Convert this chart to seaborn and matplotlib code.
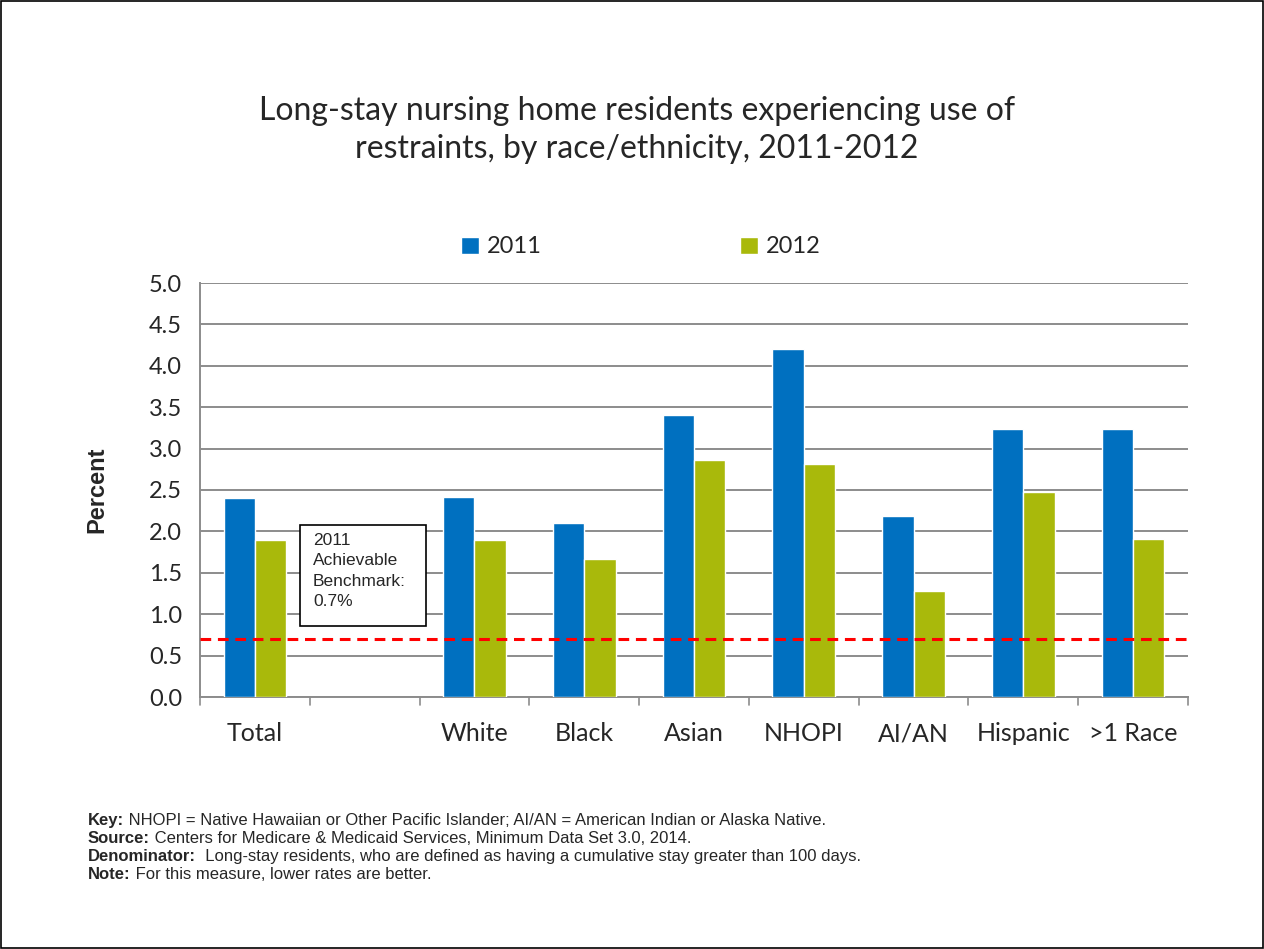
import pandas as pd
import matplotlib.pyplot as plt
import matplotlib.patches as mpatches
import seaborn as sns

# data
categories = ["Total", "", "White", "Black", "Asian", "NHOPI", "AI/AN", "Hispanic", ">1 Race"]
groups = ["Total", "White", "Black", "Asian", "NHOPI", "AI/AN", "Hispanic", ">1 Race"]
values_2011 = [2.40, 2.42, 2.10, 3.40, 4.20, 2.19, 3.24, 3.24]
values_2012 = [1.90, 1.90, 1.67, 2.86, 2.82, 1.28, 2.47, 1.91]
years = ["2011", "2012"]
benchmark = 0.7
yticks = [0.0, 0.5, 1.0, 1.5, 2.0, 2.5, 3.0, 3.5, 4.0, 4.5, 5.0]

df = pd.DataFrame({
    "group": groups * 2,
    "year": [years[0]] * len(groups) + [years[1]] * len(groups),
    "pct": values_2011 + values_2012,
})

sns.set_theme(style="white")
plt.rcParams["font.family"] = ["Lato", "DejaVu Sans"]

W, H = 1264, 949
fig = plt.figure(figsize=(W / 100, H / 100), dpi=100)
ax = fig.add_axes([200 / W, 1 - 697 / H, 988 / W, 414 / H])

sns.barplot(data=df, x="group", y="pct", hue="year", order=categories,
            hue_order=years, palette=["#0070C0", "#A9B90B"], width=0.57,
            saturation=1, ax=ax, zorder=3)

ax.set_ylim(0, 5)
ax.set_xlim(-0.5, len(categories) - 0.5)
ax.set_yticks(yticks)
ax.set_yticklabels([f"{t:.1f}" for t in yticks], fontsize=17)
ax.grid(axis="y", color="#8c8c8c", lw=1.4, zorder=0)
ax.set_axisbelow(True)

# category labels + boundary ticks
ax.set_xticks(range(len(categories)))
ax.set_xticklabels(categories, fontsize=18)
ax.tick_params(axis="x", length=0, pad=18)
ax.tick_params(axis="y", length=0, pad=13)
for b in range(len(categories) + 1):
    ax.plot([b - 0.5, b - 0.5], [0, -0.1], color="#8c8c8c", lw=1.2,
            clip_on=False, zorder=2)

for s in ["top", "right"]:
    ax.spines[s].set_visible(False)
for s in ["left", "bottom"]:
    ax.spines[s].set_color("#8c8c8c")
    ax.spines[s].set_linewidth(1.4)

ax.set_xlabel("")
ax.set_ylabel("Percent", fontsize=17, fontweight="bold",
              family=["Liberation Sans", "DejaVu Sans"], labelpad=29)

# benchmark line
ax.axhline(benchmark, color="#FF0000", ls=(0, (3.5, 2.2)), lw=2.2, zorder=4)

# legend
sns.move_legend(ax, "center", bbox_to_anchor=(641 / W, 1 - 247 / H),
                bbox_transform=fig.transFigure, ncol=2, frameon=False,
                title=None, fontsize=17, handlelength=0.75, handleheight=0.75,
                handletextpad=0.35, columnspacing=8.4)

# benchmark box
fig.patches.append(mpatches.Rectangle((300 / W, 1 - 626 / H), 126 / W, 101 / H,
                                      transform=fig.transFigure, fill=True,
                                      facecolor="white", edgecolor="black",
                                      lw=1.2, zorder=5))
fig.text(313 / W, 1 - 533 / H, "2011\nAchievable\nBenchmark:\n0.7%",
         fontsize=12.5, va="top", ha="left", linespacing=1.45,
         family=["Liberation Sans", "DejaVu Sans"], zorder=6)

# title
fig.text(637 / W, 1 - 130 / H,
         "Long-stay nursing home residents experiencing use of\nrestraints, by race/ethnicity, 2011-2012",
         fontsize=23, ha="center", va="center", linespacing=1.3)

# footnotes
notes = [
    ("Key:", " NHOPI = Native Hawaiian or Other Pacific Islander; AI/AN = American Indian or Alaska Native."),
    ("Source:", " Centers for Medicare & Medicaid Services, Minimum Data Set 3.0, 2014."),
    ("Denominator:", "  Long-stay residents, who are defined as having a cumulative stay greater than 100 days."),
    ("Note:", " For this measure, lower rates are better."),
]
note_font = ["Liberation Sans", "DejaVu Sans"]
renderer = fig.canvas.get_renderer()
for i, (head, body) in enumerate(notes):
    y = 1 - (825 + i * 18) / H
    t = fig.text(88 / W, y, head, fontsize=12, fontweight="bold",
                 va="baseline", ha="left", family=note_font)
    bb = t.get_window_extent(renderer=renderer)
    fig.text(bb.x1 / W, y, body, fontsize=12, va="baseline", ha="left",
             family=note_font)

# outer border
fig.patches.append(mpatches.Rectangle((0.0008, 0.001), 0.9984, 0.998,
                                      transform=fig.transFigure, fill=False,
                                      edgecolor="black", lw=1.2))

fig.savefig("out.png", dpi=100, facecolor="white")
